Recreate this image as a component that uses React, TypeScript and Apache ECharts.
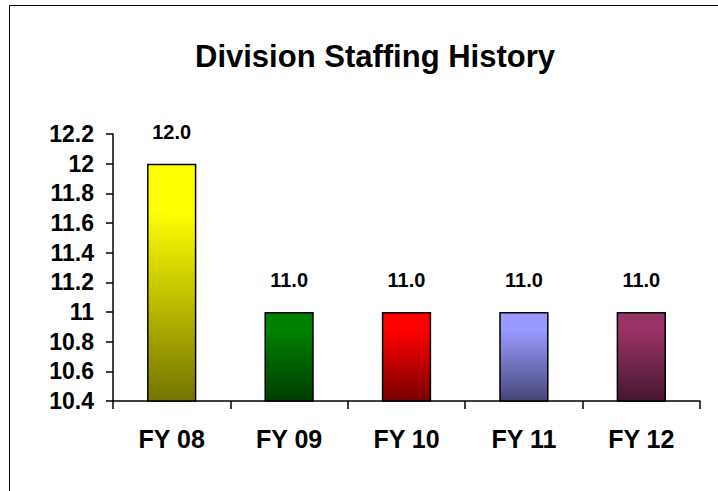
import React, { useEffect, useRef } from "react";
import * as echarts from "echarts";

const categories = ["FY 08", "FY 09", "FY 10", "FY 11", "FY 12"];
const values = [12.0, 11.0, 11.0, 11.0, 11.0];
const topColors = ["#FFFF00", "#008000", "#FF0000", "#9999FF", "#993366"];
const bottomColors = ["#747400", "#003C00", "#780000", "#464678", "#461830"];
const titleText = "Division Staffing History";

export default function App() {
  const ref = useRef<HTMLDivElement>(null);
  useEffect(() => {
    if (!ref.current) return;
    const chart = echarts.init(ref.current, null, { renderer: "svg" });
    const font = "'Liberation Sans', Arial, sans-serif";
    chart.setOption({
      animation: false,
      backgroundColor: "#ffffff",
      title: {
        text: titleText,
        left: 370,
        top: 36,
        textAlign: "center",
        textStyle: { fontFamily: font, fontWeight: "bold", fontSize: 31, color: "#000" },
      },
      grid: { left: 113, right: 18, top: 134, bottom: 90, containLabel: false },
      xAxis: {
        type: "category",
        data: categories,
        boundaryGap: true,
        axisLine: { lineStyle: { color: "#000", width: 1.5 } },
        axisTick: { show: true, length: 8, inside: false, lineStyle: { color: "#000", width: 1.5 } },
        axisLabel: { fontFamily: font, fontWeight: "bold", fontSize: 25, color: "#000", margin: 25 },
        splitLine: { show: false },
      },
      yAxis: {
        type: "value",
        min: 10.4,
        max: 12.2,
        interval: 0.2,
        axisLine: { show: true, lineStyle: { color: "#000", width: 1.5 } },
        axisTick: { show: true, length: 7, inside: false, lineStyle: { color: "#000", width: 1.5 } },
        axisLabel: {
          fontFamily: font,
          fontWeight: "bold",
          fontSize: 23,
          color: "#000",
          margin: 19,
          formatter: (v: number) => String(Math.round(v * 10) / 10),
        },
        splitLine: { show: false },
      },
      series: [
        {
          type: "bar",
          barWidth: "42%",
          data: values.map((v, i) => ({
            value: v,
            itemStyle: {
              color: new echarts.graphic.LinearGradient(0, 0, 0, 1, [
                { offset: 0, color: topColors[i] },
                { offset: 0.2, color: topColors[i] },
                { offset: 1, color: bottomColors[i] },
              ]),
              borderColor: "#000",
              borderWidth: 1.5,
            },
          })),
          label: {
            show: true,
            position: "top",
            distance: 22,
            fontFamily: font,
            fontWeight: "bold",
            fontSize: 20,
            color: "#000",
            formatter: (p: any) => Number(p.value).toFixed(1),
          },
        },
      ],
      graphic: [
        { type: "line", shape: { x1: 9.5, y1: 5.5, x2: 718, y2: 5.5 }, style: { stroke: "#000", lineWidth: 1 } },
        { type: "line", shape: { x1: 9.5, y1: 5.5, x2: 9.5, y2: 491 }, style: { stroke: "#000", lineWidth: 1 } },
      ],
    });
    return () => chart.dispose();
  }, []);
  return (
    <div
      ref={ref}
      style={{ position: "fixed", left: 0, top: 0, width: 718, height: 491 }}
    />
  );
}
